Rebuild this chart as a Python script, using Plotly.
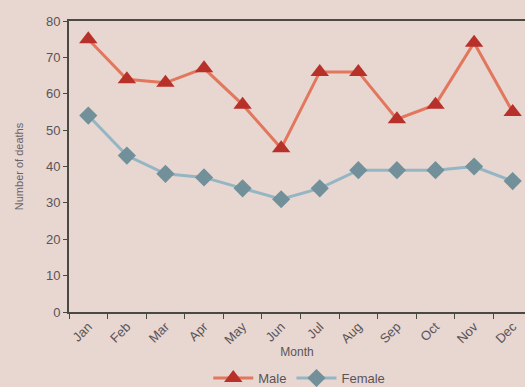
import plotly.graph_objects as go

months = ["Jan", "Feb", "Mar", "Apr", "May", "Jun", "Jul", "Aug", "Sep", "Oct", "Nov", "Dec"]
male = [75, 64, 63, 67, 57, 45, 66, 66, 53, 57, 74, 55]
female = [54, 43, 38, 37, 34, 31, 34, 39, 39, 39, 40, 36]

bg = "#e8d6d0"
text_col = "#5a5458"

fig = go.Figure()
fig.add_trace(go.Scatter(
    x=months, y=male, name="Male", mode="lines+markers",
    line=dict(color="#e2775e", width=3),
    marker=dict(symbol="triangle-up", size=16, color="#b8302a"),
))
fig.add_trace(go.Scatter(
    x=months, y=female, name="Female", mode="lines+markers",
    line=dict(color="#94b6c4", width=3),
    marker=dict(symbol="diamond", size=14, color="#71909a"),
))

fig.update_layout(
    width=525, height=387,
    paper_bgcolor=bg, plot_bgcolor=bg,
    margin=dict(l=69, r=0, t=21, b=75, autoexpand=False),
    font=dict(family="Liberation Sans, Arial, sans-serif", color=text_col, size=13),
    showlegend=True,
    legend=dict(orientation="h", x=0.505, xanchor="center", y=-0.227, yanchor="middle",
                bgcolor="rgba(0,0,0,0)", font=dict(size=13), itemwidth=40),
    xaxis=dict(
        type="category", range=[-0.5, 11.32], tickson="boundaries", automargin=False,
        ticks="outside", ticklen=5, tickcolor="#4a4a44",
        showline=True, linecolor="#4a4a44", linewidth=2, mirror=True,
        showgrid=False, tickangle=-45, tickfont=dict(size=13),
        title=dict(text="Month", standoff=0, font=dict(size=12)),
    ),
    yaxis=dict(
        range=[0, 80], dtick=10, ticks="outside", ticklen=4, tickcolor="#4a4a44",
        showline=True, linecolor="#4a4a44", linewidth=2, automargin=False,
        showgrid=False, zeroline=False, tickfont=dict(size=13),
        title=dict(text="Number of deaths", standoff=20, font=dict(size=11, color="#6a6468")),
    ),
)

fig.write_html("out.html")
